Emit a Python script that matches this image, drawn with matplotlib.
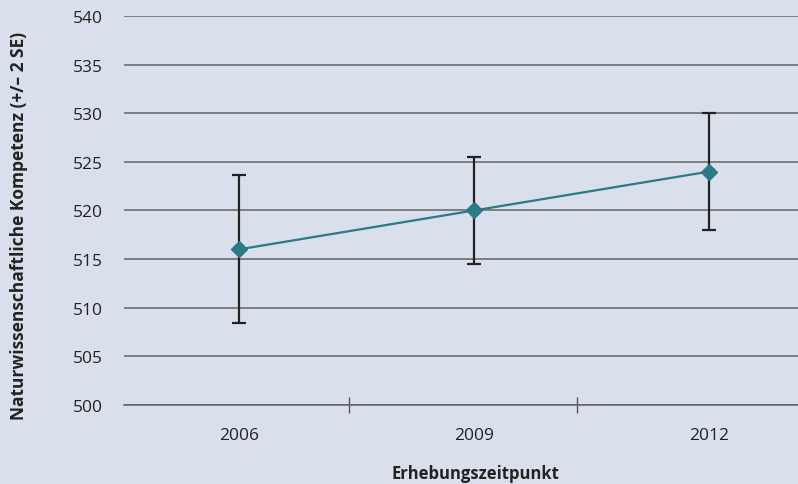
import matplotlib.pyplot as plt
import numpy as np

# data
years = ['2006', '2009', '2012']
scores = [516.0, 520.0, 524.0]
err = [7.6, 5.55, 6.0]

bg = '#dae0eb'
teal = '#2b7a88'

plt.rcParams['font.family'] = ['Open Sans', 'DejaVu Sans']

fig = plt.figure(figsize=(7.98, 4.85), dpi=100, facecolor=bg)
ax = fig.add_axes([124 / 798, 79 / 485, 674 / 798, 389 / 485])
ax.set_facecolor(bg)

x = np.arange(len(years))
ax.errorbar(x, scores, yerr=err, fmt='none', ecolor='#222222', elinewidth=1.6,
            capsize=5, capthick=1.6, zorder=3)
ax.plot(x, scores, color=teal, linewidth=1.6, marker='D', markersize=8,
        markerfacecolor=teal, markeredgecolor=teal, zorder=4)

ax.set_ylim(500, 540)
ax.set_yticks(np.arange(500, 541, 5))
ax.set_xlim(-0.489, 2.379)
ax.set_xticks(x)
ax.set_xticklabels(years)
ax.set_xticks([0.468, 1.438], minor=True)

ax.yaxis.grid(True, color='#636363', linewidth=1.1)
ax.set_axisbelow(True)
for s in ['top', 'right', 'left']:
    ax.spines[s].set_visible(False)
ax.spines['bottom'].set_color('#636363')
ax.spines['bottom'].set_linewidth(1.1)

ax.tick_params(axis='y', length=0, pad=15, labelsize=12.5, labelcolor='#222222')
ax.tick_params(axis='x', which='major', length=0, pad=16, labelsize=12.5, labelcolor='#222222')
ax.tick_params(axis='x', which='minor', direction='inout', length=12, width=1, color='#555555')

ax.set_ylabel('Naturwissenschaftliche Kompetenz (+/– 2 SE)', fontsize=12.5,
              fontweight='bold', color='#222222')
ax.yaxis.set_label_coords(-0.142, 0.463)
ax.set_xlabel('Erhebungszeitpunkt', fontsize=12, fontweight='bold', color='#222222')
ax.xaxis.set_label_coords((475 - 124) / 674, -0.152)

fig.savefig('out.png', dpi=100, facecolor=bg)
